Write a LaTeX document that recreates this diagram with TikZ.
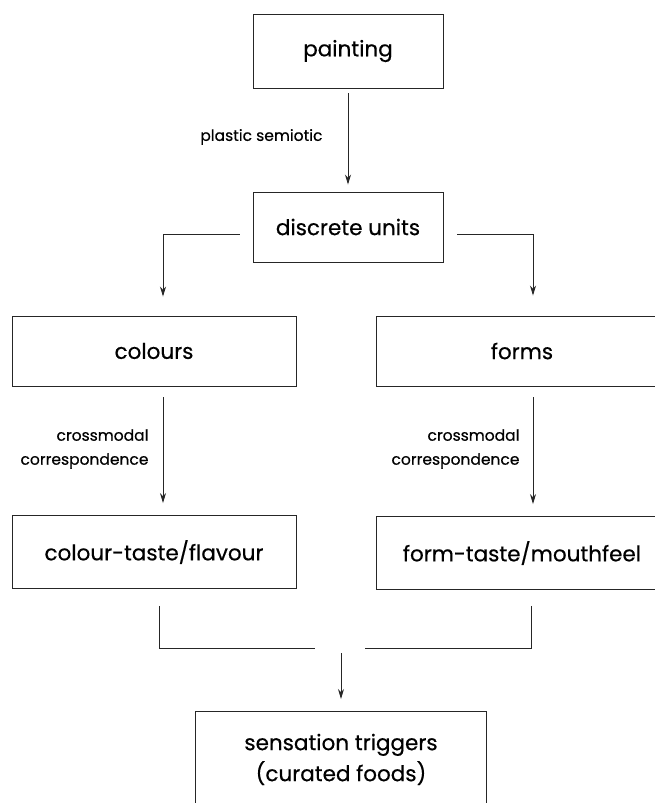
\documentclass[tikz,border=0pt]{standalone}
\usepackage{fontspec}
\setmainfont{Poppins}
\newfontfamily\heavyfont{Poppins}[FakeBold=0.5]
\usetikzlibrary{arrows.meta}

\tikzset{
  box/.style={draw=black!85, line width=0.9pt, minimum height=72pt, font=\heavyfont\fontsize{21.5}{24}\selectfont},
  wbox/.style={box, minimum width=284pt},
  conn/.style={draw=black!85, line width=0.9pt},
  arr/.style={conn, -{Stealth[length=10pt,width=6pt]}},
  lbl/.style={font=\heavyfont\fontsize{15.5}{24}\selectfont, align=right, anchor=east}
}

\begin{document}
\begin{tikzpicture}[x=1pt,y=-1pt]
            \useasboundingbox (0,0) rectangle (655,803);

            % Top boxes
            \node[box, minimum width=190pt, minimum height=74pt] (paint) at (348,51) {painting};
            \node[box, minimum width=190pt, minimum height=70pt] (disc) at (348,227) {discrete units};

            % Middle boxes
            \node[wbox, minimum height=70pt] (col) at (154,351) {colours};
            \node[wbox, minimum width=292pt, minimum height=70pt] (form) at (522,351) {forms};
            \node[wbox, minimum height=73pt] (coltaste) at (154,552) {colour-taste/flavour};
            \node[wbox, minimum width=292pt, minimum height=73pt] (formtaste) at (522,553) {form-taste/mouthfeel};

            % Bottom box (runs off the page)
            \node[box, minimum width=291pt, minimum height=96pt, align=center, anchor=north,
                  font=\heavyfont\fontsize{21.5}{31}\selectfont] (sens) at (341,711) {sensation triggers\\(curated foods)};

            % Labels
            \node[lbl] (plastic) at (326,137) {plastic semiotic};
            \node[lbl] (cmleft) at (152,449) {crossmodal\\correspondence};
            \node[lbl] (cmright) at (523,449) {crossmodal\\correspondence};

            % Arrows
            \draw[arr, shorten <=5pt, shorten >=7pt] (paint) -- (disc);
            \draw[arr, shorten <=13pt, shorten >=19pt] ([yshift=-7pt]disc.west) -| ([xshift=9pt]col.north);
            \draw[arr, shorten <=14pt, shorten >=20pt] ([yshift=-7pt]disc.east) -| ([xshift=11pt]form.north);
            \draw[arr, shorten <=11pt, shorten >=12pt] ([xshift=9pt]col.south) -- ([xshift=9pt]coltaste.north);
            \draw[arr, shorten <=11pt, shorten >=12pt] ([xshift=11pt]form.south) -- ([xshift=11pt]formtaste.north);

            % Joining bracket
            \coordinate (joinl) at (315,648);
            \coordinate (joinr) at (365,648);
            \coordinate (joinm) at (341,648);
            \draw[conn, shorten <=17pt] ([xshift=5pt]coltaste.south) |- (joinl);
            \draw[conn, shorten <=16pt] ([xshift=9pt]formtaste.south) |- (joinr);
            \draw[arr, shorten <=5pt, shorten >=12pt] (joinm) -- (sens.north);

        \end{tikzpicture}
\end{document}
